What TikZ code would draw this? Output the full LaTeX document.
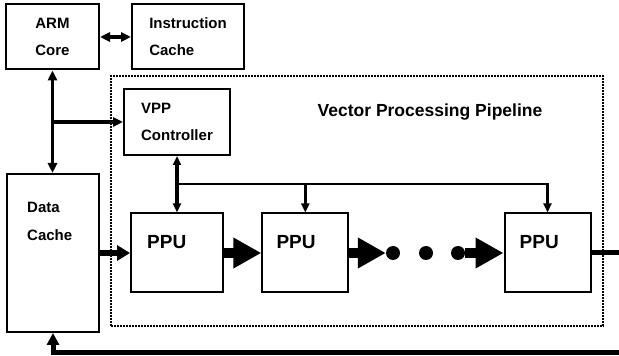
\documentclass[tikz,border=0pt]{standalone}
\usepackage{fontspec}
\setmainfont{Liberation Sans}
\usetikzlibrary{arrows.meta,positioning}
\tikzset{
  % Plain block with bold label
  blk/.style={rectangle,draw=black,line width=2pt,inner sep=0pt,
    align=left,font=\fontsize{15}{27}\selectfont\bfseries},
  % Free label inside a block
  lbl/.style={inner sep=0pt,align=left,
    font=\fontsize{15}{28}\selectfont\bfseries},
  ppulbl/.style={inner sep=0pt,font=\fontsize{19}{22}\selectfont\bfseries},
  ttl/.style={inner sep=0pt,font=\fontsize{17.5}{20}\selectfont\bfseries},
  % Dotted pipeline frame
  frame/.style={rectangle,draw=black,line width=2.6pt,
    dash pattern=on 2pt off 1pt,inner sep=0pt},
  % Ellipsis dot
  dot/.style={circle,fill=black,inner sep=0pt,minimum size=14pt},
  % Arrows
  arr/.style={-{Triangle[length=10pt,width=9pt]},line width=3.5pt},
  dbl/.style={{Triangle[length=10pt,width=9pt]}-{Triangle[length=10pt,width=9pt]},
    line width=3.5pt},
  bus/.style={-{Triangle[length=9pt,width=8pt]},line width=2.8pt},
  dblbus/.style={{Triangle[length=9pt,width=8pt]}-{Triangle[length=9pt,width=8pt]},
    line width=3.2pt},
  midarr/.style={-{Triangle[length=13pt,width=15pt]},line width=5.5pt},
  bigarr/.style={-{Triangle[length=28pt,width=29pt]},line width=10pt},
  wire/.style={line width=5pt},
}
\begin{document}
\begin{tikzpicture}[x=1pt,y=1pt]
  \useasboundingbox (0,0) rectangle (619,356);

  % pipeline frame and title
  \node[frame,minimum width=492pt,minimum height=250pt] (vpframe) at (357,155) {};
  \node[ttl,anchor=base] (vptitle) at (430,239) {Vector Processing Pipeline};

  % host side
  \node[blk,minimum width=93pt,minimum height=65pt] (arm) at (52.5,319) {ARM\\Core};
  \node[blk,minimum width=112pt,minimum height=65pt] (icache) at (188,319)
    {Instruction\\Cache};
  \node[blk,minimum width=92pt,minimum height=158pt] (dcache) at (53,103) {};
  \node[lbl,anchor=north west] (dctxt) at ([shift={(21,-28.5)}]dcache.north west)
    {Data\\Cache};

  % controller and processing units
  \node[blk,minimum width=106pt,minimum height=66pt] (vpp) at (177,234)
    {VPP\\Controller};
  \node[blk,minimum width=92pt,minimum height=79pt] (ppuA) at (177,103) {};
  \node[blk,minimum width=86pt,minimum height=79pt] (ppuB) at (305.3,103) {};
  \node[blk,minimum width=86pt,minimum height=79pt] (ppuC) at (547.5,103) {};
  \node[ppulbl,anchor=north west] (ppuAtxt) at ([shift={(17,-23)}]ppuA.north west) {PPU};
  \node[ppulbl,anchor=north west] (ppuBtxt) at ([shift={(15,-23)}]ppuB.north west) {PPU};
  \node[ppulbl,anchor=north west] (ppuCtxt) at ([shift={(16,-23)}]ppuC.north west) {PPU};

  \node[dot] (d1) at (393,103) {};
  \node[dot] (d2) at (426,103) {};
  \node[dot] (d3) at (458,103) {};

  \coordinate (tap) at (arm.south |- vpp.west);
  \coordinate (busL) at (177,172);
  \coordinate (outR) at (619,103);
  \coordinate (fbR) at (619,3);

  % memory side connections
  \draw[dbl] (arm.east) -- (icache.west);
  \draw[dbl] (arm.south) -- (arm.south |- dcache.north);
  \draw[arr] (tap) -- (vpp.west);

  % control bus
  \draw[dblbus] (vpp.south) -- (ppuA.north);
  \draw[bus] (busL) -| (ppuB.north);
  \draw[bus] (busL) -| (ppuC.north);

  % data path
  \draw[midarr] (dcache.east) -- (ppuA.west);
  \draw[bigarr] (ppuA.east) -- (ppuB.west);
  \draw[bigarr] (ppuB.east) -- (d1.west);
  \draw[bigarr] (d3) -- (ppuC.west);
  \draw[wire] (ppuC.east) -- (outR);
  \draw[wire,-{Triangle[length=12pt,width=12pt]}] (fbR) -| (dcache.south);
\end{tikzpicture}
\end{document}
